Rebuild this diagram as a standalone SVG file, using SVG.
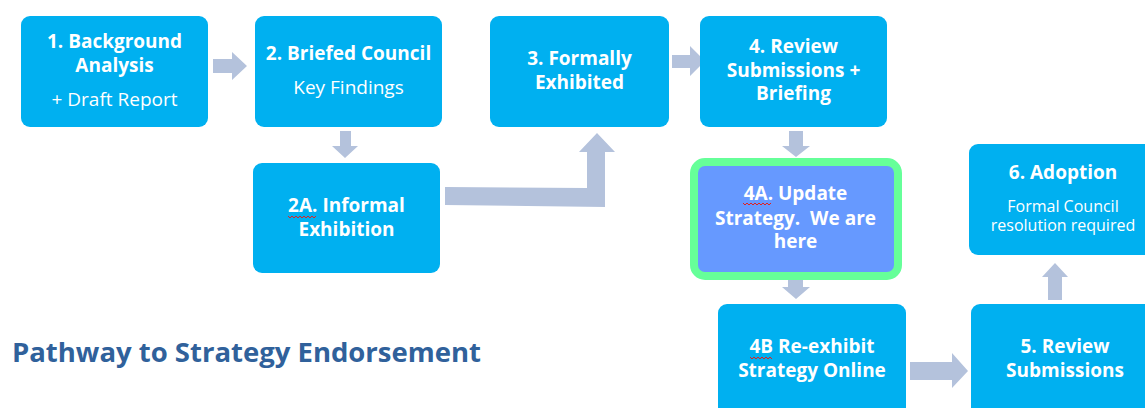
<svg xmlns="http://www.w3.org/2000/svg" width="1145" height="408" viewBox="0 0 1145 408">
<style>
.box{fill:#00B0F0}
.arr{fill:#B4C2DC}
.t{font-family:"Open Sans","Liberation Sans",sans-serif;fill:#FFFFFF;text-anchor:middle}
.b{font-weight:bold;font-size:19px}
.r{font-size:19px}
.s{font-size:16px}
.sq{fill:none;stroke:#E02020;stroke-width:1}
</style>
<rect width="1145" height="408" fill="#FFFFFF"/>
<g id="connectors">
<polygon class="arr" points="213,59 232,59 232,52 247,66 232,80 232,73 213,73"/>
<polygon class="arr" points="672,55 690,55 690,46 705,61 690,76 690,68 672,68"/>
<polygon class="arr" points="340,131 351,131 351,146 358,146 345,158 332,146 340,146"/>
<polygon class="arr" points="445,187 587,188 587,152 579,152 597,133 615,152 605,152 605,207 445,205"/>
<polygon class="arr" points="789,131 803,131 803,146 810,146 796,157 782,146 789,146"/>
<polygon class="arr" points="788,280 803,280 803,287 810,287 796,299 782,287 788,287"/>
<polygon class="arr" points="910,362 952,362 952,353 968,371 952,388 952,380 910,380"/>
<polygon class="arr" points="1048,300 1062,300 1062,277 1068,277 1055,263 1042,277 1048,277"/>
</g>
<g id="n1">
<rect class="box" x="21" y="16" width="187" height="111" rx="9"/>
<text class="t b" x="114.5" y="48">1. Background</text>
<text class="t b" x="114.5" y="72">Analysis</text>
<text class="t r" x="114.5" y="106">+ Draft Report</text>
</g>
<g id="n2">
<rect class="box" x="255" y="16" width="187" height="111" rx="9"/>
<text class="t b" x="348.5" y="60">2. Briefed Council</text>
<text class="t r" x="348.5" y="94">Key Findings</text>
</g>
<g id="n3">
<rect class="box" x="490" y="16" width="179" height="111" rx="9"/>
<text class="t b" x="579.5" y="65">3. Formally</text>
<text class="t b" x="579.5" y="89">Exhibited</text>
</g>
<g id="n4">
<rect class="box" x="700" y="16" width="187" height="111" rx="9"/>
<text class="t b" x="793.5" y="53">4. Review</text>
<text class="t b" x="793.5" y="77">Submissions +</text>
<text class="t b" x="793.5" y="100">Briefing</text>
</g>
<g id="n2a">
<rect class="box" x="253" y="163" width="187" height="110" rx="9"/>
<text class="t b" x="346.5" y="212">2A. Informal</text>
<text class="t b" x="346.5" y="236">Exhibition</text>
<path class="sq" d="M288,216 l2,2 l2,-2 l2,2 l2,-2 l2,2 l2,-2 l2,2 l2,-2 l2,2 l2,-2 l2,2 l2,-2 l2,2 l2,-2"/>
</g>
<g id="n4a">
<rect x="694" y="162" width="204" height="114" rx="11" fill="#6699FF" stroke="#66FF99" stroke-width="8"/>
<text class="t b" x="795.5" y="200">4A. Update</text>
<text class="t b" x="795.5" y="225" xml:space="preserve">Strategy.  We are</text>
<text class="t b" x="795.5" y="248">here</text>
<path class="sq" d="M743,203 l2,2 l2,-2 l2,2 l2,-2 l2,2 l2,-2 l2,2 l2,-2 l2,2 l2,-2 l2,2 l2,-2 l2,2 l2,-2"/>
</g>
<g id="n6">
<rect class="box" x="969" y="144" width="188" height="111" rx="9"/>
<text class="t b" x="1063" y="179">6. Adoption</text>
<text class="t s" x="1063" y="212">Formal Council</text>
<text class="t s" x="1063" y="231">resolution required</text>
</g>
<g id="n4b">
<rect class="box" x="718" y="304" width="188" height="120" rx="9"/>
<text class="t b" x="812" y="353">4B Re-exhibit</text>
<text class="t b" x="812" y="377">Strategy Online</text>
<path class="sq" d="M750,357 l2,2 l2,-2 l2,2 l2,-2 l2,2 l2,-2 l2,2 l2,-2 l2,2 l2,-2 l2,2"/>
</g>
<g id="n5">
<rect class="box" x="971" y="304" width="188" height="120" rx="9"/>
<text class="t b" x="1065" y="353">5. Review</text>
<text class="t b" x="1065" y="377">Submissions</text>
</g>
<text x="12" y="362" font-family="'Open Sans','Liberation Sans',sans-serif" font-weight="bold" font-size="27" fill="#30619B" textLength="469" lengthAdjust="spacingAndGlyphs">Pathway to Strategy Endorsement</text>
</svg>
